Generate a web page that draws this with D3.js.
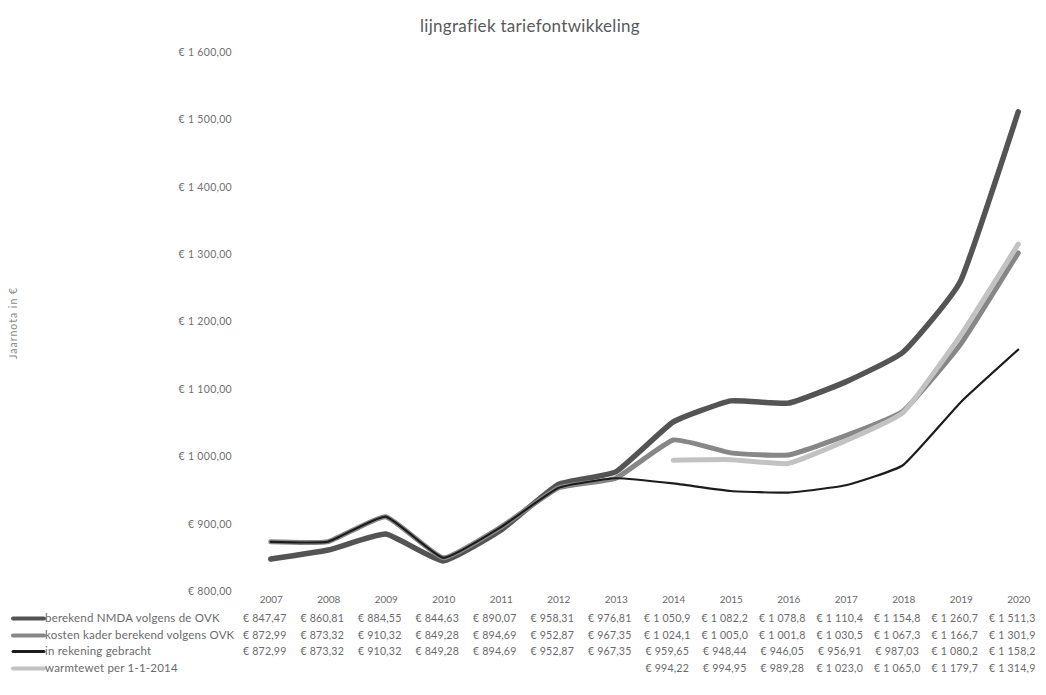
<!DOCTYPE html>
<html><head><meta charset="utf-8">
<script src="https://cdn.jsdelivr.net/npm/d3@7"></script>
<style>
body{margin:0;background:#fff;}
text{font-family:Lato,"Open Sans",sans-serif;}
</style></head>
<body>
<svg id="chart" width="1046" height="695"></svg>
<script>
const years = ["2007","2008","2009","2010","2011","2012","2013","2014","2015","2016","2017","2018","2019","2020"];
const seriesNames = ["berekend NMDA volgens de OVK","kosten kader berekend volgens OVK","in rekening gebracht","warmtewet per 1-1-2014"];
const nmda = [847.47, 860.81, 884.55, 844.63, 890.07, 958.31, 976.81, 1050.9, 1082.2, 1078.8, 1110.4, 1154.8, 1260.7, 1511.3];
const kostenKader = [872.99, 873.32, 910.32, 849.28, 894.69, 952.87, 967.35, 1024.1, 1005.0, 1001.8, 1030.5, 1067.3, 1166.7, 1301.9];
const inRekening = [872.99, 873.32, 910.32, 849.28, 894.69, 952.87, 967.35, 959.65, 948.44, 946.05, 956.91, 987.03, 1080.2, 1158.2];
const warmtewet = [null, null, null, null, null, null, null, 994.22, 994.95, 989.28, 1023.0, 1065.0, 1179.7, 1314.9];
const yTicks = [800, 900, 1000, 1100, 1200, 1300, 1400, 1500, 1600];
const seriesValues = [nmda, kostenKader, inRekening, warmtewet];

const styles = [
  {color:"#545454", width:5.5},
  {color:"#878787", width:5},
  {color:"#1c1c1c", width:2.2},
  {color:"#c2c2c2", width:5}
];

const svg = d3.select("#chart");
const x = d3.scalePoint().domain(years).range([242, 1047]).padding(0.5);
const y = d3.scaleLinear().domain([800, 1600]).range([591, 52]);

function fmtTick(v){
  const s = d3.format(",.2f")(v).replace(/,/g," ").replace(".",",");
  return "€ " + s;
}
function fmtVal(v){
  if (v < 1000) return "€ " + v.toFixed(2).replace(".",",");
  return "€ " + d3.format(",.1f")(v).replace(/,/g," ").replace(".",",");
}

// title
svg.append("text").attr("x", 530).attr("y", 32).attr("text-anchor","middle")
  .attr("font-size", 17).attr("letter-spacing", 0.3).attr("fill","#595959").text("lijngrafiek tariefontwikkeling");

// y axis
const yAxis = d3.axisLeft(y).tickValues(yTicks).tickFormat(fmtTick).tickSize(0).tickPadding(0);
const gy = svg.append("g").attr("transform","translate(232,0)").call(yAxis);
gy.select(".domain").remove();
gy.selectAll("text").attr("font-size",10.5).attr("letter-spacing",0.3).attr("fill","#707070").attr("font-family","Lato,sans-serif");

// y title
svg.append("text").attr("transform","translate(17,323) rotate(-90)").attr("text-anchor","middle")
  .attr("font-size",10.5).attr("letter-spacing",1).attr("fill","#8a8a8a").text("Jaarnota in €");

// lines
const line = d3.line().defined(d => d.v != null).x(d => x(d.year)).y(d => y(d.v)).curve(d3.curveCardinal.tension(0.6));
seriesValues.forEach((vals, i) => {
  const data = years.map((yr, j) => ({year: yr, v: vals[j]}));
  svg.append("path").datum(data).attr("d", line).attr("fill","none")
    .attr("stroke", styles[i].color).attr("stroke-width", styles[i].width)
    .attr("stroke-linejoin","round").attr("stroke-linecap","round");
});

// x axis labels (table header)
const xAxis = d3.axisBottom(x).tickSize(0).tickPadding(0);
const gx = svg.append("g").attr("transform","translate(0,596)").call(xAxis);
gx.select(".domain").remove();
gx.selectAll("text").attr("font-size",10).attr("fill","#6a6a6a").attr("font-family","Lato,sans-serif");

// data table
const rowY = [622, 639, 655, 672];
seriesNames.forEach((name, i) => {
  const g = svg.append("g");
  g.append("line").attr("x1",13).attr("x2",44).attr("y1",rowY[i]-3.5).attr("y2",rowY[i]-3.5)
    .attr("stroke", styles[i].color).attr("stroke-width", i===2 ? 3 : 4).attr("stroke-linecap","round");
  g.append("text").attr("x",45).attr("y",rowY[i]).attr("font-size",11.5).attr("letter-spacing",0.2).attr("fill","#6a6a6a").text(name);
  g.selectAll("text.val").data(years.map((yr,j)=>({yr, v: seriesValues[i][j]})).filter(d=>d.v!=null))
    .enter().append("text").attr("class","val")
    .attr("x", d => x(d.yr) - 6).attr("y", rowY[i]).attr("text-anchor","middle")
    .attr("font-size",10.6).attr("letter-spacing",0.2).attr("fill","#6a6a6a").text(d => fmtVal(d.v));
});
</script>
</body></html>
